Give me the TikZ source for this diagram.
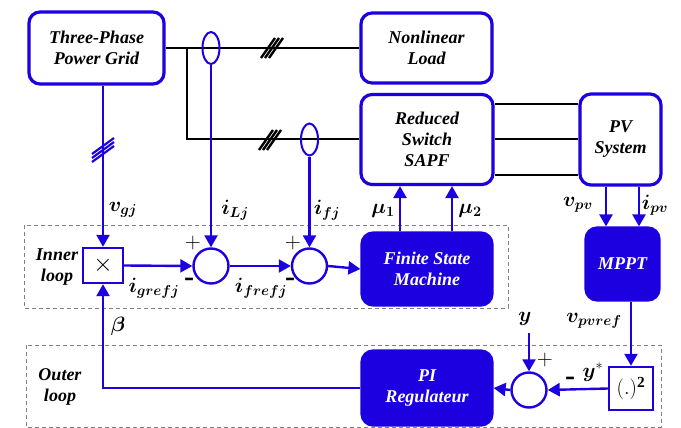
\documentclass[tikz,border=0pt]{standalone}
\usepackage{amsmath,bm}
\usepackage{fontspec}
\setmainfont{Liberation Serif}
\usetikzlibrary{arrows.meta,positioning,calc,shapes.geometric}
\definecolor{ctrlBlue}{RGB}{28,0,224}
\definecolor{loopGray}{RGB}{128,128,128}

\begin{document}
\begin{tikzpicture}[x=1pt,y=-1pt,
    blk/.style={draw=ctrlBlue,line width=3.2pt,rounded corners=11pt,align=center,inner sep=0pt,font=\fontsize{18}{21}\selectfont\bfseries\itshape},
    ctl/.style={blk,fill=ctrlBlue,text=white},
    sumnode/.style={circle,draw=ctrlBlue,line width=2.4pt,minimum size=35pt,inner sep=0pt},
    sensor/.style={ellipse,draw=ctrlBlue,line width=2pt,minimum width=17pt,minimum height=32pt,inner sep=0pt},
    sig/.style={draw=ctrlBlue,line width=2.4pt,-{Triangle[length=12pt,width=13pt]}},
    pwr/.style={line width=2pt},
    lbl/.style={font=\fontsize{22}{24}\selectfont,inner sep=0pt},
    sgn/.style={font=\fontsize{22}{24}\selectfont\sffamily,inner sep=0pt},
    neg/.style={font=\fontsize{30}{30}\selectfont\bfseries,inner sep=0pt},
    loopbox/.style={draw=loopGray,line width=1pt,dash pattern=on 4pt off 3pt},
    looptxt/.style={align=center,font=\fontsize{18}{21}\selectfont\bfseries\itshape}
  ]
  \useasboundingbox (0,0) rectangle (681,428);

  % loop frames
  \draw[loopbox] (24,225) rectangle (508,308);
  \draw[loopbox] (26,345) rectangle (661,427);
  \node[looptxt] (inner) at (57,267) {Inner\\loop};
  \node[looptxt] (outer) at (60,387) {Outer\\loop};

  % power side
  \node[blk,minimum width=135pt,minimum height=72pt] (grid) at (96.5,48) {Three-Phase\\Power Grid};
  \node[blk,minimum width=131pt,minimum height=70pt] (load) at (426.5,48) {Nonlinear\\Load};
  \node[blk,minimum width=132pt,minimum height=90pt] (sapf) at (427,139.5) {Reduced\\Switch\\SAPF};
  \node[blk,minimum width=81pt,minimum height=91pt] (pv) at (620.5,139.5) {PV\\System};
  \coordinate (br) at (187,48);

  \draw[pwr] (grid.east) -- (load.west);
  \draw[pwr] (br) |- (sapf.west);
  \foreach \dy in {-35,0,35}
    \draw[pwr] ([yshift=\dy pt]sapf.east) -- ([yshift=\dy pt]sapf.east -| pv.west);
  % three-phase marks
  \foreach \d in {-4,0,4} {
    \draw[pwr,line width=2.4pt] (272+\d-7,58) -- (272+\d+7,38);
    \draw[pwr,line width=2.4pt] (270+\d-7,150) -- (270+\d+7,130);
    \draw[draw=ctrlBlue,line width=2.2pt] (103-11,150+\d+8) -- (103+11,150+\d-8);
  }

  % current sensors
  \node[sensor] (ctL) at (211,48) {};
  \node[sensor] (ctF) at (309.5,139.5) {};

  % control blocks
  \node[draw=ctrlBlue,line width=2.4pt,minimum width=40pt,minimum height=35pt,inner sep=0pt,font=\fontsize{30}{30}\selectfont] (mult) at (103,265.5) {$\times$};
  \node[sumnode] (sum1) at (211,266) {};
  \node[sumnode] (sum2) at (309.5,266) {};
  \node[ctl,minimum width=130pt,minimum height=72pt] (fsm) at (427,269) {Finite State\\Machine};
  \node[ctl,minimum width=73pt,minimum height=72pt] (mppt) at (622.5,264) {MPPT};
  \node[ctl,minimum width=130pt,minimum height=74pt] (pireg) at (427,388) {PI\\Regulateur};
  \node[sumnode] (sum3) at (529,390) {};
  \node[draw=ctrlBlue,line width=2.4pt,minimum width=44pt,minimum height=43pt,inner sep=0pt,font=\fontsize{22}{22}\selectfont] (sq) at (631,388.5) {$(.)^{\mathbf{2}}$};
  \coordinate (yin) at (529,333);

  % signal paths
  \draw[sig] (grid.south -| mult.north) -- (mult.north);
  \draw[sig] (ctL.south) -- (sum1.north);
  \draw[sig] (ctF.south) -- (sum2.north);
  \draw[sig] (mult.east) -- (sum1.west);
  \draw[sig] (sum1.east) -- (sum2.west);
  \draw[sig] (sum2.east) -- (fsm.west);
  \draw[sig] ([xshift=-27pt]fsm.north) -- ([xshift=-27pt]fsm.north |- sapf.south);
  \draw[sig] ([xshift=25pt]fsm.north) -- ([xshift=25pt]fsm.north |- sapf.south);
  \draw[sig] ([xshift=-14.5pt]pv.south) -- ([xshift=-14.5pt]pv.south |- mppt.north);
  \draw[sig] ([xshift=18.5pt]pv.south) -- ([xshift=18.5pt]pv.south |- mppt.north);
  \draw[sig] (mppt.south -| sq.north) -- (sq.north);
  \draw[sig] (sq.west) -- (sum3.east);
  \draw[sig] (yin) -- (sum3.north);
  \draw[sig] (sum3.west) -- (pireg.east);
  \draw[sig] (pireg.west) -| (mult.south);

  % signal names
  \node[lbl] (vgj) at (123,210) {$\boldsymbol{v_{gj}}$};
  \node[lbl] (iLj) at (235,210) {$\boldsymbol{i_{Lj}}$};
  \node[lbl] (ifj) at (327,210) {$\boldsymbol{i_{fj}}$};
  \node[lbl] (igref) at (154,288) {$\boldsymbol{i_{grefj}}$};
  \node[lbl] (ifref) at (261,288) {$\boldsymbol{i_{frefj}}$};
  \node[lbl] (mu1) at (383,211) {$\boldsymbol{\mu_{1}}$};
  \node[lbl] (mu2) at (470,211) {$\boldsymbol{\mu_{2}}$};
  \node[lbl] (vpv) at (578,205) {$\boldsymbol{v_{pv}}$};
  \node[lbl] (ipv) at (655,205) {$\boldsymbol{i_{pv}}$};
  \node[lbl] (vpvref) at (594,321) {$\boldsymbol{v_{pvref}}$};
  \node[lbl] (beta) at (118,326) {$\boldsymbol{\beta}$};
  \node[lbl] (ylab) at (525,319) {$\boldsymbol{y}$};
  \node[lbl] (ystar) at (593,372) {$\boldsymbol{y}^{*}$};

  % signs at the summing points
  \node[sgn] (p1) at (193,243) {+};
  \node[neg] (m1) at (189,282) {-};
  \node[sgn] (p2) at (293,243) {+};
  \node[neg] (m2) at (290,282) {-};
  \node[sgn] (p3) at (545,360) {+};
  \node[neg] (m3) at (570,381) {-};
\end{tikzpicture}
\end{document}
